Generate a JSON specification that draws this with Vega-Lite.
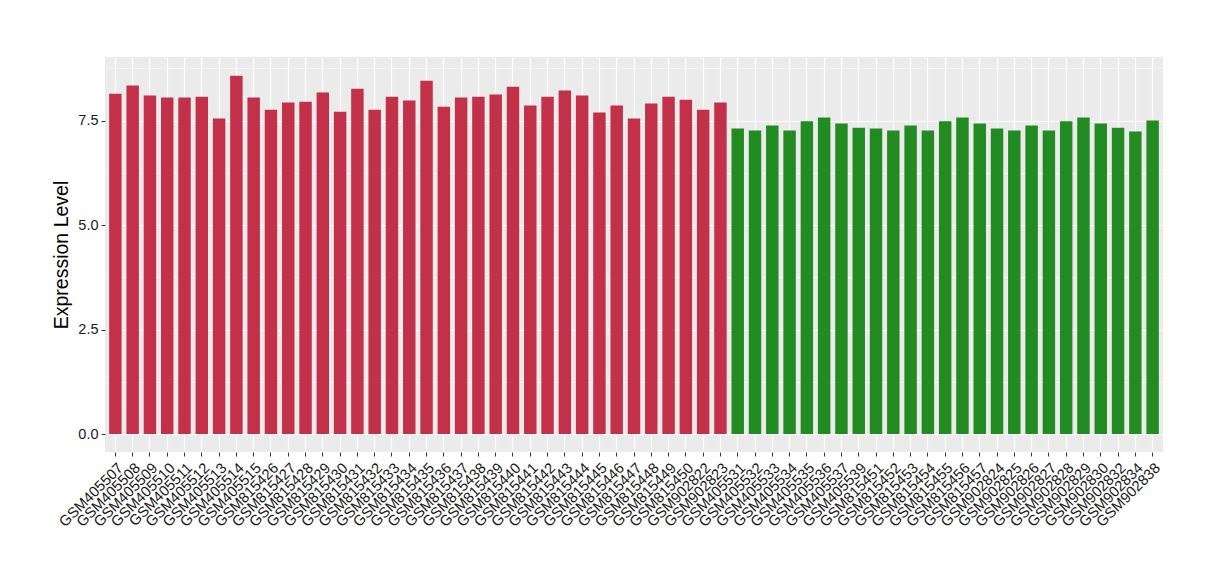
{
  "$schema": "https://vega.github.io/schema/vega-lite/v6.json",
  "width": 1058,
  "height": 395,
  "autosize": {"type": "none"},
  "padding": {"left": 105, "top": 57, "right": 57, "bottom": 128},
  "background": "white",
  "config": {
    "view": {"fill": "#EBEBEB", "stroke": null},
    "font": "Liberation Sans",
    "axis": {"labelFont": "Liberation Sans", "titleFont": "Liberation Sans"}
  },
  "data": {
    "values": [
      {"sample": "GSM405507", "value": 8.14, "group": "A"},
      {"sample": "GSM405508", "value": 8.34, "group": "A"},
      {"sample": "GSM405509", "value": 8.10, "group": "A"},
      {"sample": "GSM405510", "value": 8.05, "group": "A"},
      {"sample": "GSM405511", "value": 8.05, "group": "A"},
      {"sample": "GSM405512", "value": 8.07, "group": "A"},
      {"sample": "GSM405513", "value": 7.55, "group": "A"},
      {"sample": "GSM405514", "value": 8.57, "group": "A"},
      {"sample": "GSM405515", "value": 8.05, "group": "A"},
      {"sample": "GSM815426", "value": 7.76, "group": "A"},
      {"sample": "GSM815427", "value": 7.93, "group": "A"},
      {"sample": "GSM815428", "value": 7.95, "group": "A"},
      {"sample": "GSM815429", "value": 8.17, "group": "A"},
      {"sample": "GSM815430", "value": 7.71, "group": "A"},
      {"sample": "GSM815431", "value": 8.26, "group": "A"},
      {"sample": "GSM815432", "value": 7.76, "group": "A"},
      {"sample": "GSM815433", "value": 8.07, "group": "A"},
      {"sample": "GSM815434", "value": 7.98, "group": "A"},
      {"sample": "GSM815435", "value": 8.45, "group": "A"},
      {"sample": "GSM815436", "value": 7.83, "group": "A"},
      {"sample": "GSM815437", "value": 8.05, "group": "A"},
      {"sample": "GSM815438", "value": 8.07, "group": "A"},
      {"sample": "GSM815439", "value": 8.12, "group": "A"},
      {"sample": "GSM815440", "value": 8.31, "group": "A"},
      {"sample": "GSM815441", "value": 7.86, "group": "A"},
      {"sample": "GSM815442", "value": 8.07, "group": "A"},
      {"sample": "GSM815443", "value": 8.22, "group": "A"},
      {"sample": "GSM815444", "value": 8.10, "group": "A"},
      {"sample": "GSM815445", "value": 7.69, "group": "A"},
      {"sample": "GSM815446", "value": 7.86, "group": "A"},
      {"sample": "GSM815447", "value": 7.55, "group": "A"},
      {"sample": "GSM815448", "value": 7.91, "group": "A"},
      {"sample": "GSM815449", "value": 8.07, "group": "A"},
      {"sample": "GSM815450", "value": 8.00, "group": "A"},
      {"sample": "GSM902822", "value": 7.76, "group": "A"},
      {"sample": "GSM902823", "value": 7.93, "group": "A"},
      {"sample": "GSM405531", "value": 7.31, "group": "B"},
      {"sample": "GSM405532", "value": 7.26, "group": "B"},
      {"sample": "GSM405533", "value": 7.38, "group": "B"},
      {"sample": "GSM405534", "value": 7.26, "group": "B"},
      {"sample": "GSM405535", "value": 7.48, "group": "B"},
      {"sample": "GSM405536", "value": 7.57, "group": "B"},
      {"sample": "GSM405537", "value": 7.43, "group": "B"},
      {"sample": "GSM405539", "value": 7.33, "group": "B"},
      {"sample": "GSM815451", "value": 7.31, "group": "B"},
      {"sample": "GSM815452", "value": 7.26, "group": "B"},
      {"sample": "GSM815453", "value": 7.38, "group": "B"},
      {"sample": "GSM815454", "value": 7.26, "group": "B"},
      {"sample": "GSM815455", "value": 7.48, "group": "B"},
      {"sample": "GSM815456", "value": 7.57, "group": "B"},
      {"sample": "GSM815457", "value": 7.43, "group": "B"},
      {"sample": "GSM902824", "value": 7.31, "group": "B"},
      {"sample": "GSM902825", "value": 7.26, "group": "B"},
      {"sample": "GSM902826", "value": 7.38, "group": "B"},
      {"sample": "GSM902827", "value": 7.26, "group": "B"},
      {"sample": "GSM902828", "value": 7.48, "group": "B"},
      {"sample": "GSM902829", "value": 7.57, "group": "B"},
      {"sample": "GSM902830", "value": 7.43, "group": "B"},
      {"sample": "GSM902832", "value": 7.33, "group": "B"},
      {"sample": "GSM902834", "value": 7.24, "group": "B"},
      {"sample": "GSM902838", "value": 7.50, "group": "B"}
    ]
  },
  "resolve": {"axis": {"y": "independent"}},
  "layer": [
    {
      "mark": {"type": "rule", "opacity": 0},
      "encoding": {
        "y": {
          "field": "value",
          "type": "quantitative",
          "scale": {"domain": [-0.43, 9.02], "nice": false, "zero": false},
          "axis": {
            "orient": "left",
            "values": [1.25, 3.75, 6.25, 8.75],
            "grid": true,
            "gridColor": "white",
            "gridWidth": 0.6,
            "labels": false,
            "ticks": false,
            "domain": false,
            "title": null
          }
        }
      }
    },
    {
      "mark": {"type": "bar", "orient": "vertical"},
      "encoding": {
        "x": {
          "field": "sample",
          "type": "nominal",
          "sort": null,
          "scale": {"paddingInner": 0.28, "paddingOuter": 0.24},
          "axis": {
            "title": null,
            "labelAngle": -45,
            "labelAlign": "right",
            "labelBaseline": "top",
            "labelFontSize": 14.8,
            "labelColor": "#1a1a1a",
            "labelPadding": 4,
            "labelOffset": 0,
            "tickColor": "#333333",
            "tickSize": 4,
            "domain": false,
            "grid": true,
            "gridColor": "white",
            "gridWidth": 1.2
          }
        },
        "y": {
          "field": "value",
          "type": "quantitative",
          "scale": {"domain": [-0.43, 9.02], "nice": false, "zero": false},
          "axis": {
            "orient": "left",
            "title": "Expression Level",
            "titleFontSize": 19.5,
            "titleFontWeight": "normal",
            "titleColor": "black",
            "titlePadding": 6,
            "values": [0, 2.5, 5, 7.5],
            "format": ".1f",
            "labelFontSize": 14.5,
            "labelColor": "#1a1a1a",
            "labelPadding": 3,
            "tickColor": "#333333",
            "tickSize": 4,
            "domain": false,
            "grid": true,
            "gridColor": "white",
            "gridWidth": 1.2
          }
        },
        "y2": {"datum": 0},
        "color": {
          "field": "group",
          "type": "nominal",
          "scale": {"domain": ["A", "B"], "range": ["#C2304A", "#228B22"]},
          "legend": null
        }
      }
    }
  ]
}
